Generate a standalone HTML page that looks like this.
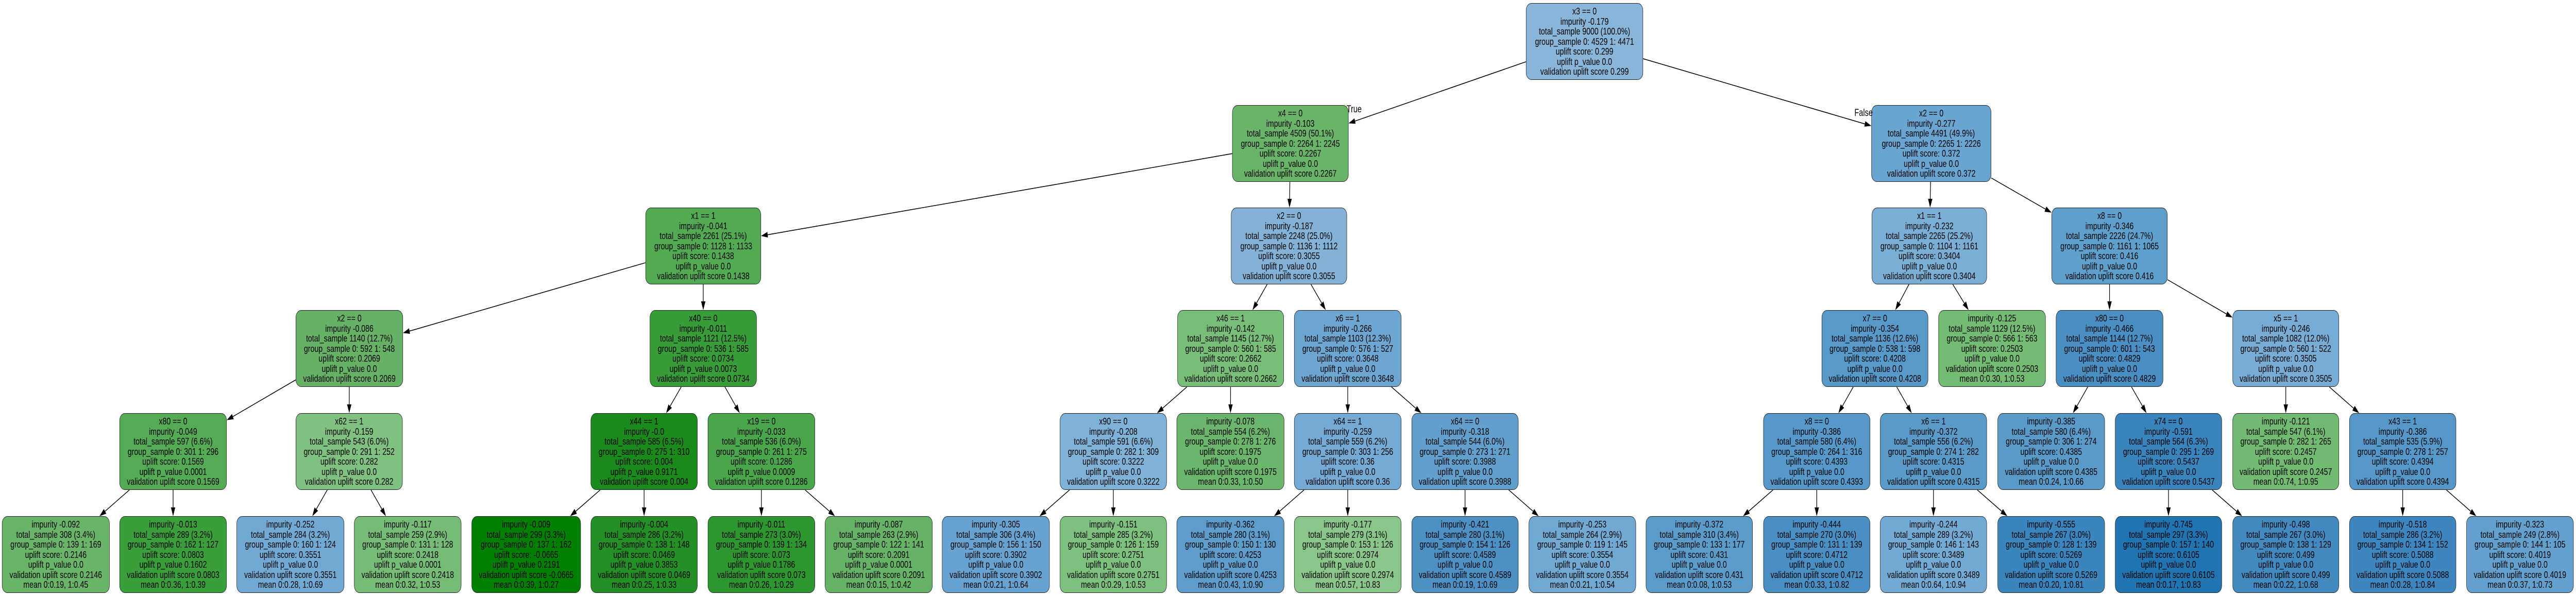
<!DOCTYPE html>
<html><head><meta charset="utf-8"><style>
html,body{margin:0;padding:0;background:#fff;overflow:hidden;}
html{width:6533px;height:1155px;}
body{width:6533px;height:1155px;position:relative;overflow:hidden;font-family:"Liberation Sans",Arial,sans-serif;}
#wrap{position:absolute;left:0;top:0;width:6533px;height:1155px;overflow:hidden;transform-origin:0 0;}
.n{position:absolute;height:149px;border:1.3px solid #222;border-radius:14px;box-sizing:border-box;display:flex;flex-direction:column;justify-content:center;align-items:center;text-align:center;font-size:18.5px;line-height:19.6px;color:#000;white-space:nowrap;overflow:hidden;}
.lbl{position:absolute;font-size:19px;color:#000;white-space:nowrap;}
svg{position:absolute;left:0;top:0;display:block;}
</style></head><body>
<div id="wrap">
<svg id="e" width="6533" height="1155"></svg>

<div class="n" id="r" style="left:3870px;width:297px;top:6px;background:#88b5d8">x3 == 0<br>impurity -0.179<br>total_sample 9000 (100.0%)<br>group_sample  0: 4529 1: 4471<br>uplift score: 0.299<br>uplift p_value 0.0<br>validation uplift score 0.299</div>

<div class="n" id="a" style="left:3125px;width:295px;top:204px;background:#6ab46a">x4 == 0<br>impurity -0.103<br>total_sample 4509 (50.1%)<br>group_sample  0: 2264 1: 2245<br>uplift score: 0.2267<br>uplift p_value 0.0<br>validation uplift score 0.2267</div>
<div class="n" id="b" style="left:4746px;width:304px;top:204px;background:#6aa4d0">x2 == 0<br>impurity -0.277<br>total_sample 4491 (49.9%)<br>group_sample  0: 2265 1: 2226<br>uplift score: 0.372<br>uplift p_value 0.0<br>validation uplift score 0.372</div>

<div class="n" id="aa" style="left:1637px;width:293px;top:403px;background:#52aa52">x1 == 1<br>impurity -0.041<br>total_sample 2261 (25.1%)<br>group_sample  0: 1128 1: 1133<br>uplift score: 0.1438<br>uplift p_value 0.0<br>validation uplift score 0.1438</div>
<div class="n" id="ab" style="left:3122px;width:294px;top:403px;background:#84b2d6">x2 == 0<br>impurity -0.187<br>total_sample 2248 (25.0%)<br>group_sample  0: 1136 1: 1112<br>uplift score: 0.3055<br>uplift p_value 0.0<br>validation uplift score 0.3055</div>
<div class="n" id="ba" style="left:4747px;width:292px;top:403px;background:#7aaed4">x1 == 1<br>impurity -0.232<br>total_sample 2265 (25.2%)<br>group_sample  0: 1104 1: 1161<br>uplift score: 0.3404<br>uplift p_value 0.0<br>validation uplift score 0.3404</div>
<div class="n" id="bb" style="left:5203px;width:294px;top:403px;background:#5f9fcc">x8 == 0<br>impurity -0.346<br>total_sample 2226 (24.7%)<br>group_sample  0: 1161 1: 1065<br>uplift score: 0.416<br>uplift p_value 0.0<br>validation uplift score 0.416</div>

<div class="n" id="c1" style="left:750px;width:272px;top:602px;background:#66b166">x2 == 0<br>impurity -0.086<br>total_sample 1140 (12.7%)<br>group_sample  0: 592 1: 548<br>uplift score: 0.2069<br>uplift p_value 0.0<br>validation uplift score 0.2069</div>
<div class="n" id="c2" style="left:1648px;width:271px;top:602px;background:#389c38">x40 == 0<br>impurity -0.011<br>total_sample 1121 (12.5%)<br>group_sample  0: 536 1: 585<br>uplift score: 0.0734<br>uplift p_value 0.0073<br>validation uplift score 0.0734</div>
<div class="n" id="c3" style="left:2986px;width:270px;top:602px;background:#78bd78">x46 == 1<br>impurity -0.142<br>total_sample 1145 (12.7%)<br>group_sample  0: 560 1: 585<br>uplift score: 0.2662<br>uplift p_value 0.0<br>validation uplift score 0.2662</div>
<div class="n" id="c4" style="left:3282px;width:272px;top:602px;background:#6ea6d2">x6 == 1<br>impurity -0.266<br>total_sample 1103 (12.3%)<br>group_sample  0: 576 1: 527<br>uplift score: 0.3648<br>uplift p_value 0.0<br>validation uplift score 0.3648</div>
<div class="n" id="c5" style="left:4620px;width:270px;top:602px;background:#5799c8">x7 == 0<br>impurity -0.354<br>total_sample 1136 (12.6%)<br>group_sample  0: 538 1: 598<br>uplift score: 0.4208<br>uplift p_value 0.0<br>validation uplift score 0.4208</div>
<div class="n" id="c6" style="left:4916px;width:272px;top:602px;background:#74bb74">impurity -0.125<br>total_sample 1129 (12.5%)<br>group_sample  0: 566 1: 563<br>uplift score: 0.2503<br>uplift p_value 0.0<br>validation uplift score 0.2503<br>mean 0:0.30, 1:0.53</div>
<div class="n" id="c7" style="left:5214px;width:272px;top:602px;background:#4a8fc3">x80 == 0<br>impurity -0.466<br>total_sample 1144 (12.7%)<br>group_sample  0: 601 1: 543<br>uplift score: 0.4829<br>uplift p_value 0.0<br>validation uplift score 0.4829</div>
<div class="n" id="c8" style="left:5662px;width:270px;top:602px;background:#78acd4">x5 == 1<br>impurity -0.246<br>total_sample 1082 (12.0%)<br>group_sample  0: 560 1: 522<br>uplift score: 0.3505<br>uplift p_value 0.0<br>validation uplift score 0.3505</div>

<div class="n" id="d1" style="left:303px;width:272px;top:802px;background:#55aa55">x80 == 0<br>impurity -0.049<br>total_sample 597 (6.6%)<br>group_sample  0: 301 1: 296<br>uplift score: 0.1569<br>uplift p_value 0.0001<br>validation uplift score 0.1569</div>
<div class="n" id="d2" style="left:750px;width:271px;top:802px;background:#80c080">x62 == 1<br>impurity -0.159<br>total_sample 543 (6.0%)<br>group_sample  0: 291 1: 252<br>uplift score: 0.282<br>uplift p_value 0.0<br>validation uplift score 0.282</div>
<div class="n" id="d3" style="left:1498px;width:271px;top:802px;background:#1a8a1a">x44 == 1<br>impurity -0.0<br>total_sample 585 (6.5%)<br>group_sample  0: 275 1: 310<br>uplift score: 0.004<br>uplift p_value 0.9171<br>validation uplift score 0.004</div>
<div class="n" id="d4" style="left:1795px;width:272px;top:802px;background:#4aa64a">x19 == 0<br>impurity -0.033<br>total_sample 536 (6.0%)<br>group_sample  0: 261 1: 275<br>uplift score: 0.1286<br>uplift p_value 0.0009<br>validation uplift score 0.1286</div>
<div class="n" id="d5" style="left:2688px;width:271px;top:802px;background:#80b1d7">x90 == 0<br>impurity -0.208<br>total_sample 591 (6.6%)<br>group_sample  0: 282 1: 309<br>uplift score: 0.3222<br>uplift p_value 0.0<br>validation uplift score 0.3222</div>
<div class="n" id="d6" style="left:2984px;width:273px;top:802px;background:#6cb56c">impurity -0.078<br>total_sample 554 (6.2%)<br>group_sample  0: 278 1: 276<br>uplift score: 0.1975<br>uplift p_value 0.0<br>validation uplift score 0.1975<br>mean 0:0.33, 1:0.50</div>
<div class="n" id="d7" style="left:3282px;width:272px;top:802px;background:#74aad3">x64 == 1<br>impurity -0.259<br>total_sample 559 (6.2%)<br>group_sample  0: 303 1: 256<br>uplift score: 0.36<br>uplift p_value 0.0<br>validation uplift score 0.36</div>
<div class="n" id="d8" style="left:3580px;width:271px;top:802px;background:#639fcc">x64 == 0<br>impurity -0.318<br>total_sample 544 (6.0%)<br>group_sample  0: 273 1: 271<br>uplift score: 0.3988<br>uplift p_value 0.0<br>validation uplift score 0.3988</div>
<div class="n" id="d9" style="left:4472px;width:271px;top:802px;background:#5598c9">x8 == 0<br>impurity -0.386<br>total_sample 580 (6.4%)<br>group_sample  0: 264 1: 316<br>uplift score: 0.4393<br>uplift p_value 0.0<br>validation uplift score 0.4393</div>
<div class="n" id="d10" style="left:4768px;width:271px;top:802px;background:#5a9ac8">x6 == 1<br>impurity -0.372<br>total_sample 556 (6.2%)<br>group_sample  0: 274 1: 282<br>uplift score: 0.4315<br>uplift p_value 0.0<br>validation uplift score 0.4315</div>
<div class="n" id="d11" style="left:5066px;width:272px;top:802px;background:#5a9ac9">impurity -0.385<br>total_sample 580 (6.4%)<br>group_sample  0: 306 1: 274<br>uplift score: 0.4385<br>uplift p_value 0.0<br>validation uplift score 0.4385<br>mean 0:0.24, 1:0.66</div>
<div class="n" id="d12" style="left:5364px;width:271px;top:802px;background:#3a84bd">x74 == 0<br>impurity -0.591<br>total_sample 564 (6.3%)<br>group_sample  0: 295 1: 269<br>uplift score: 0.5437<br>uplift p_value 0.0<br>validation uplift score 0.5437</div>
<div class="n" id="d13" style="left:5662px;width:270px;top:802px;background:#72ba72">impurity -0.121<br>total_sample 547 (6.1%)<br>group_sample  0: 282 1: 265<br>uplift score: 0.2457<br>uplift p_value 0.0<br>validation uplift score 0.2457<br>mean 0:0.74, 1:0.95</div>
<div class="n" id="d14" style="left:5958px;width:271px;top:802px;background:#5597c8">x43 == 1<br>impurity -0.386<br>total_sample 535 (5.9%)<br>group_sample  0: 278 1: 257<br>uplift score: 0.4394<br>uplift p_value 0.0<br>validation uplift score 0.4394</div>

<div class="n" id="e1" style="left:5px;width:273px;top:1002px;background:#6ab46a">impurity -0.092<br>total_sample 308 (3.4%)<br>group_sample  0: 139 1: 169<br>uplift score: 0.2146<br>uplift p_value 0.0<br>validation uplift score 0.2146<br>mean 0:0.19, 1:0.45</div>
<div class="n" id="e2" style="left:303px;width:272px;top:1002px;background:#3a9e3a">impurity -0.013<br>total_sample 289 (3.2%)<br>group_sample  0: 162 1: 127<br>uplift score: 0.0803<br>uplift p_value 0.1602<br>validation uplift score 0.0803<br>mean 0:0.36, 1:0.39</div>
<div class="n" id="e3" style="left:600px;width:273px;top:1002px;background:#72a9d3">impurity -0.252<br>total_sample 284 (3.2%)<br>group_sample  0: 160 1: 124<br>uplift score: 0.3551<br>uplift p_value 0.0<br>validation uplift score 0.3551<br>mean 0:0.28, 1:0.69</div>
<div class="n" id="e4" style="left:898px;width:272px;top:1002px;background:#76bb76">impurity -0.117<br>total_sample 259 (2.9%)<br>group_sample  0: 131 1: 128<br>uplift score: 0.2418<br>uplift p_value 0.0001<br>validation uplift score 0.2418<br>mean 0:0.32, 1:0.53</div>
<div class="n" id="e5" style="left:1196px;width:277px;top:1002px;background:#007f00">impurity -0.009<br>total_sample 299 (3.3%)<br>group_sample  0: 137 1: 162<br>uplift score: -0.0665<br>uplift p_value 0.2191<br>validation uplift score -0.0665<br>mean 0:0.39, 1:0.27</div>
<div class="n" id="e6" style="left:1498px;width:271px;top:1002px;background:#248f24">impurity -0.004<br>total_sample 286 (3.2%)<br>group_sample  0: 138 1: 148<br>uplift score: 0.0469<br>uplift p_value 0.3853<br>validation uplift score 0.0469<br>mean 0:0.25, 1:0.33</div>
<div class="n" id="e7" style="left:1795px;width:272px;top:1002px;background:#2e962e">impurity -0.011<br>total_sample 273 (3.0%)<br>group_sample  0: 139 1: 134<br>uplift score: 0.073<br>uplift p_value 0.1786<br>validation uplift score 0.073<br>mean 0:0.26, 1:0.29</div>
<div class="n" id="e8" style="left:2092px;width:273px;top:1002px;background:#66b266">impurity -0.087<br>total_sample 263 (2.9%)<br>group_sample  0: 122 1: 141<br>uplift score: 0.2091<br>uplift p_value 0.0001<br>validation uplift score 0.2091<br>mean 0:0.15, 1:0.42</div>
<div class="n" id="e9" style="left:2389px;width:273px;top:1002px;background:#68a2d0">impurity -0.305<br>total_sample 306 (3.4%)<br>group_sample  0: 156 1: 150<br>uplift score: 0.3902<br>uplift p_value 0.0<br>validation uplift score 0.3902<br>mean 0:0.21, 1:0.64</div>
<div class="n" id="e10" style="left:2688px;width:271px;top:1002px;background:#7ec07e">impurity -0.151<br>total_sample 285 (3.2%)<br>group_sample  0: 126 1: 159<br>uplift score: 0.2751<br>uplift p_value 0.0<br>validation uplift score 0.2751<br>mean 0:0.29, 1:0.53</div>
<div class="n" id="e11" style="left:2984px;width:273px;top:1002px;background:#5e9dcb">impurity -0.362<br>total_sample 280 (3.1%)<br>group_sample  0: 150 1: 130<br>uplift score: 0.4253<br>uplift p_value 0.0<br>validation uplift score 0.4253<br>mean 0:0.43, 1:0.90</div>
<div class="n" id="e12" style="left:3282px;width:272px;top:1002px;background:#8ac68a">impurity -0.177<br>total_sample 279 (3.1%)<br>group_sample  0: 153 1: 126<br>uplift score: 0.2974<br>uplift p_value 0.0<br>validation uplift score 0.2974<br>mean 0:0.57, 1:0.83</div>
<div class="n" id="e13" style="left:3580px;width:271px;top:1002px;background:#4d91c4">impurity -0.421<br>total_sample 280 (3.1%)<br>group_sample  0: 154 1: 126<br>uplift score: 0.4589<br>uplift p_value 0.0<br>validation uplift score 0.4589<br>mean 0:0.19, 1:0.69</div>
<div class="n" id="e14" style="left:3877px;width:272px;top:1002px;background:#72a9d3">impurity -0.253<br>total_sample 264 (2.9%)<br>group_sample  0: 119 1: 145<br>uplift score: 0.3554<br>uplift p_value 0.0<br>validation uplift score 0.3554<br>mean 0:0.21, 1:0.54</div>
<div class="n" id="e15" style="left:4174px;width:271px;top:1002px;background:#5b9bc9">impurity -0.372<br>total_sample 310 (3.4%)<br>group_sample  0: 133 1: 177<br>uplift score: 0.431<br>uplift p_value 0.0<br>validation uplift score 0.431<br>mean 0:0.08, 1:0.53</div>
<div class="n" id="e16" style="left:4472px;width:271px;top:1002px;background:#4a8fc3">impurity -0.444<br>total_sample 270 (3.0%)<br>group_sample  0: 131 1: 139<br>uplift score: 0.4712<br>uplift p_value 0.0<br>validation uplift score 0.4712<br>mean 0:0.33, 1:0.82</div>
<div class="n" id="e17" style="left:4768px;width:271px;top:1002px;background:#72aad4">impurity -0.244<br>total_sample 289 (3.2%)<br>group_sample  0: 146 1: 143<br>uplift score: 0.3489<br>uplift p_value 0.0<br>validation uplift score 0.3489<br>mean 0:0.64, 1:0.94</div>
<div class="n" id="e18" style="left:5066px;width:272px;top:1002px;background:#3a85bd">impurity -0.555<br>total_sample 267 (3.0%)<br>group_sample  0: 128 1: 139<br>uplift score: 0.5269<br>uplift p_value 0.0<br>validation uplift score 0.5269<br>mean 0:0.20, 1:0.81</div>
<div class="n" id="e19" style="left:5364px;width:271px;top:1002px;background:#1f74b1">impurity -0.745<br>total_sample 297 (3.3%)<br>group_sample  0: 157 1: 140<br>uplift score: 0.6105<br>uplift p_value 0.0<br>validation uplift score 0.6105<br>mean 0:0.17, 1:0.83</div>
<div class="n" id="e20" style="left:5662px;width:270px;top:1002px;background:#4289c0">impurity -0.498<br>total_sample 267 (3.0%)<br>group_sample  0: 138 1: 129<br>uplift score: 0.499<br>uplift p_value 0.0<br>validation uplift score 0.499<br>mean 0:0.22, 1:0.68</div>
<div class="n" id="e21" style="left:5958px;width:271px;top:1002px;background:#3d86bf">impurity -0.518<br>total_sample 286 (3.2%)<br>group_sample  0: 134 1: 152<br>uplift score: 0.5088<br>uplift p_value 0.0<br>validation uplift score 0.5088<br>mean 0:0.28, 1:0.84</div>
<div class="n" id="e22" style="left:6255px;width:272px;top:1002px;background:#64a0cd">impurity -0.323<br>total_sample 249 (2.8%)<br>group_sample  0: 144 1: 105<br>uplift score: 0.4019<br>uplift p_value 0.0<br>validation uplift score 0.4019<br>mean 0:0.37, 1:0.73</div>

<div class="lbl" style="left:3415px;top:202px;">True</div>
<div class="lbl" style="left:4703px;top:209px;">False</div>
</div>

<script>
var E=[["r","a"],["r","b"],["a","aa"],["a","ab"],["b","ba"],["b","bb"],
["aa","c1"],["aa","c2"],["ab","c3"],["ab","c4"],["ba","c5"],["ba","c6"],["bb","c7"],["bb","c8"],
["c1","d1"],["c1","d2"],["c2","d3"],["c2","d4"],["c3","d5"],["c3","d6"],["c4","d7"],["c4","d8"],
["c5","d9"],["c5","d10"],["c7","d11"],["c7","d12"],["c8","d13"],["c8","d14"],
["d1","e1"],["d1","e2"],["d2","e3"],["d2","e4"],["d3","e5"],["d3","e6"],["d4","e7"],["d4","e8"],
["d5","e9"],["d5","e10"],["d7","e11"],["d7","e12"],["d8","e13"],["d8","e14"],["d9","e15"],["d9","e16"],
["d10","e17"],["d10","e18"],["d12","e19"],["d12","e20"],["d14","e21"],["d14","e22"]];
var s=document.getElementById("e"),h="";
function box(id){var el=document.getElementById(id);var x=el.offsetLeft,y=el.offsetTop,w=el.offsetWidth,hh=el.offsetHeight;return {cx:x+w/2,cy:y+hh/2,hw:w/2,hh:hh/2};}
function clip(b,dx,dy){return Math.min(dx?b.hw/Math.abs(dx):1e9,dy?b.hh/Math.abs(dy):1e9);}
E.forEach(function(p){var A=box(p[0]),B=box(p[1]);var dx=B.cx-A.cx,dy=B.cy-A.cy;
var t1=clip(A,dx,dy),t2=clip(B,dx,dy);
var x1=A.cx+dx*t1,y1=A.cy+dy*t1,x2=B.cx-dx*t2,y2=B.cy-dy*t2;
var L=Math.hypot(x2-x1,y2-y1),ux=(x2-x1)/L,uy=(y2-y1)/L;
var bx=x2-ux*17,by=y2-uy*17;
h+='<line x1="'+x1+'" y1="'+y1+'" x2="'+bx+'" y2="'+by+'" stroke="#000" stroke-width="1.6"/>';
h+='<polygon points="'+x2+','+y2+' '+(bx-uy*5.5)+','+(by+ux*5.5)+' '+(bx+uy*5.5)+','+(by-ux*5.5)+'" fill="#000"/>';});
s.innerHTML=h;
function fit(){var w=document.getElementById("wrap");var vw=window.innerWidth||6533,vh=window.innerHeight||1155;
var sx=vw/6533,sy=vh/1155;if(Math.abs(sx-1)>0.01||Math.abs(sy-1)>0.01){w.style.transform="scale("+sx+","+sy+")";}else{w.style.transform="none";}}
fit();
</script>
</body></html>
